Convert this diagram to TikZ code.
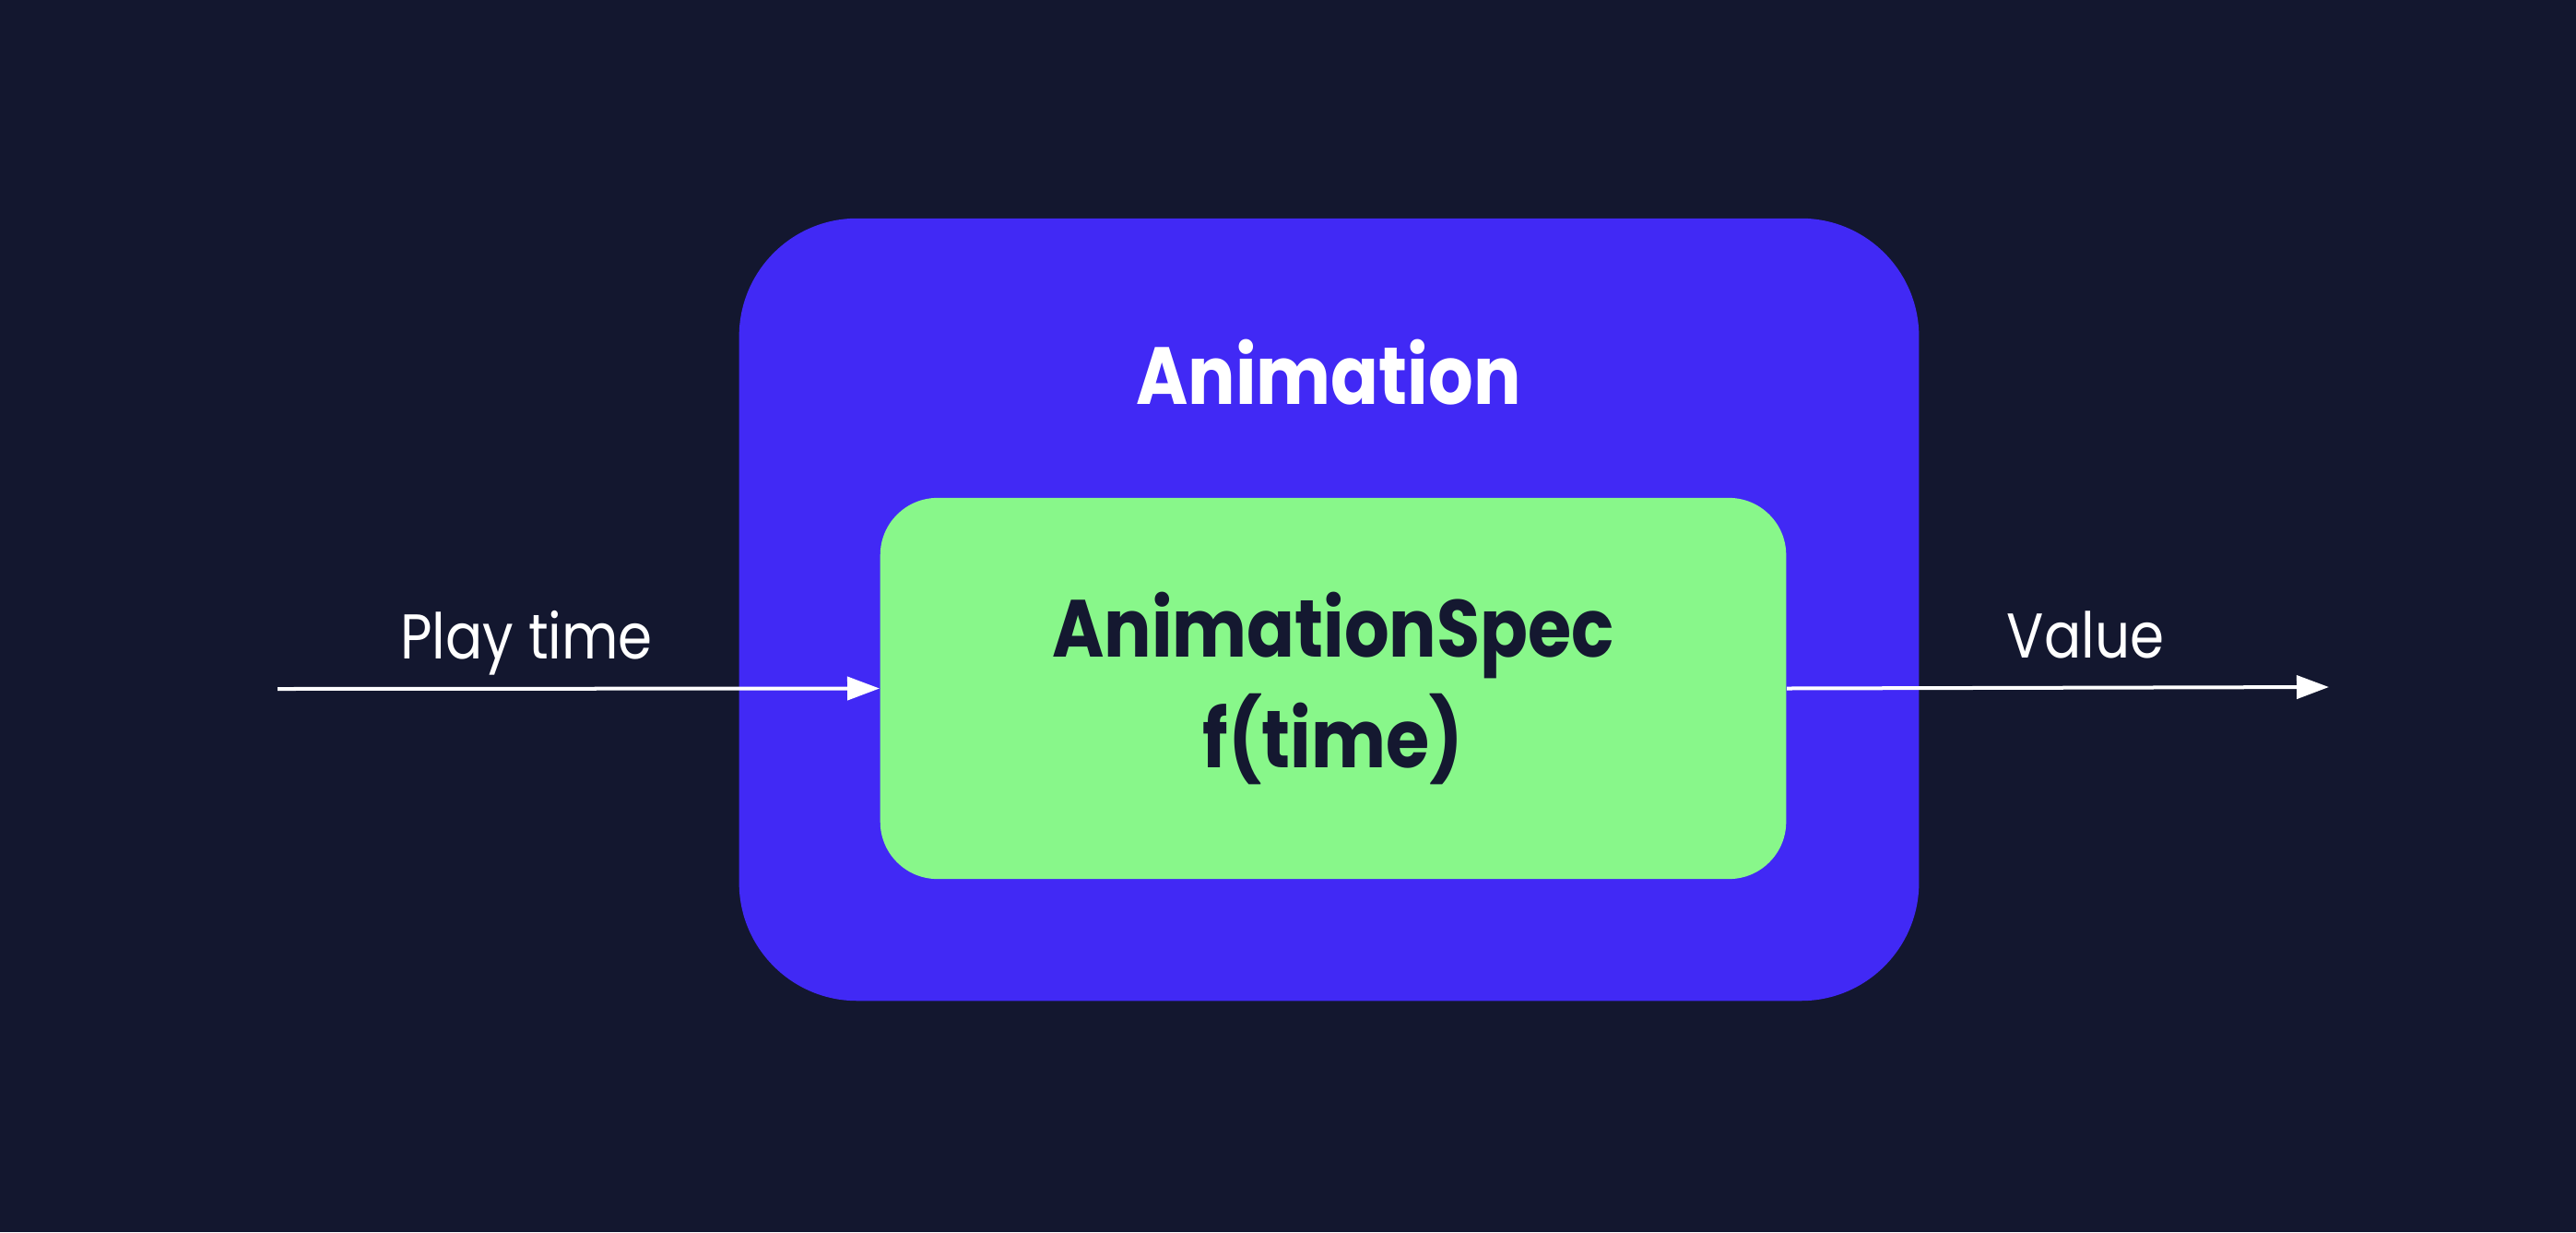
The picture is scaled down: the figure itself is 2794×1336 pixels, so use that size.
\documentclass[tikz,border=0pt]{standalone}
\usepackage{fontspec}
\setmainfont[FakeStretch=0.87]{Poppins}
\usepackage{tikz}
\usetikzlibrary{arrows.meta,positioning}
\definecolor{bgnavy}{HTML}{13172F}
\definecolor{animblue}{HTML}{4129F5}
\definecolor{specgreen}{HTML}{88F78A}
\definecolor{inkdark}{HTML}{141830}
\tikzset{
  outerbox/.style={
    rectangle,
    rounded corners=1.28cm,
    fill=animblue,
    minimum width=12.79cm,
    minimum height=8.48cm,
    inner sep=0pt
  },
  innerbox/.style={
    rectangle,
    rounded corners=0.62cm,
    fill=specgreen,
    minimum width=9.82cm,
    minimum height=4.13cm,
    inner sep=0pt,
    text=inkdark,
    align=center,
    font=\fontsize{25}{34}\selectfont\bfseries
  },
  titletext/.style={
    text=white,
    font=\fontsize{25}{34}\selectfont\bfseries,
    inner sep=0pt
  },
  edgelabel/.style={
    text=white,
    font=\fontsize{19.5}{23}\selectfont,
    anchor=base,
    inner sep=0pt
  },
  flowline/.style={-{Triangle[length=3.5mm,width=2.5mm]},line width=0.04cm,white}
}
\begin{document}
\begin{tikzpicture}[x=0.01cm,y=-0.01cm]
  \fill[bgnavy] (0,0) rectangle (2794,1336);
  \useasboundingbox (0,0) rectangle (2794,1336);
  \node[outerbox] (anim) at (1441.5,661) {};
  \node[titletext] (animtitle) at (1441,404) {Animation};
  \node[innerbox] (spec) at (1446,746.5) {AnimationSpec\\f(time)};
  \coordinate (playin) at (301,747);
  \coordinate (valueout) at (2526,745);
  \draw[flowline] (playin) -- (spec.west);
  \draw[flowline] (spec.east) -- (valueout);
  \node[edgelabel] (playlabel) at (571,714) {Play time};
  \node[edgelabel] (valuelabel) at (2262,713) {Value};
\end{tikzpicture}
\end{document}
